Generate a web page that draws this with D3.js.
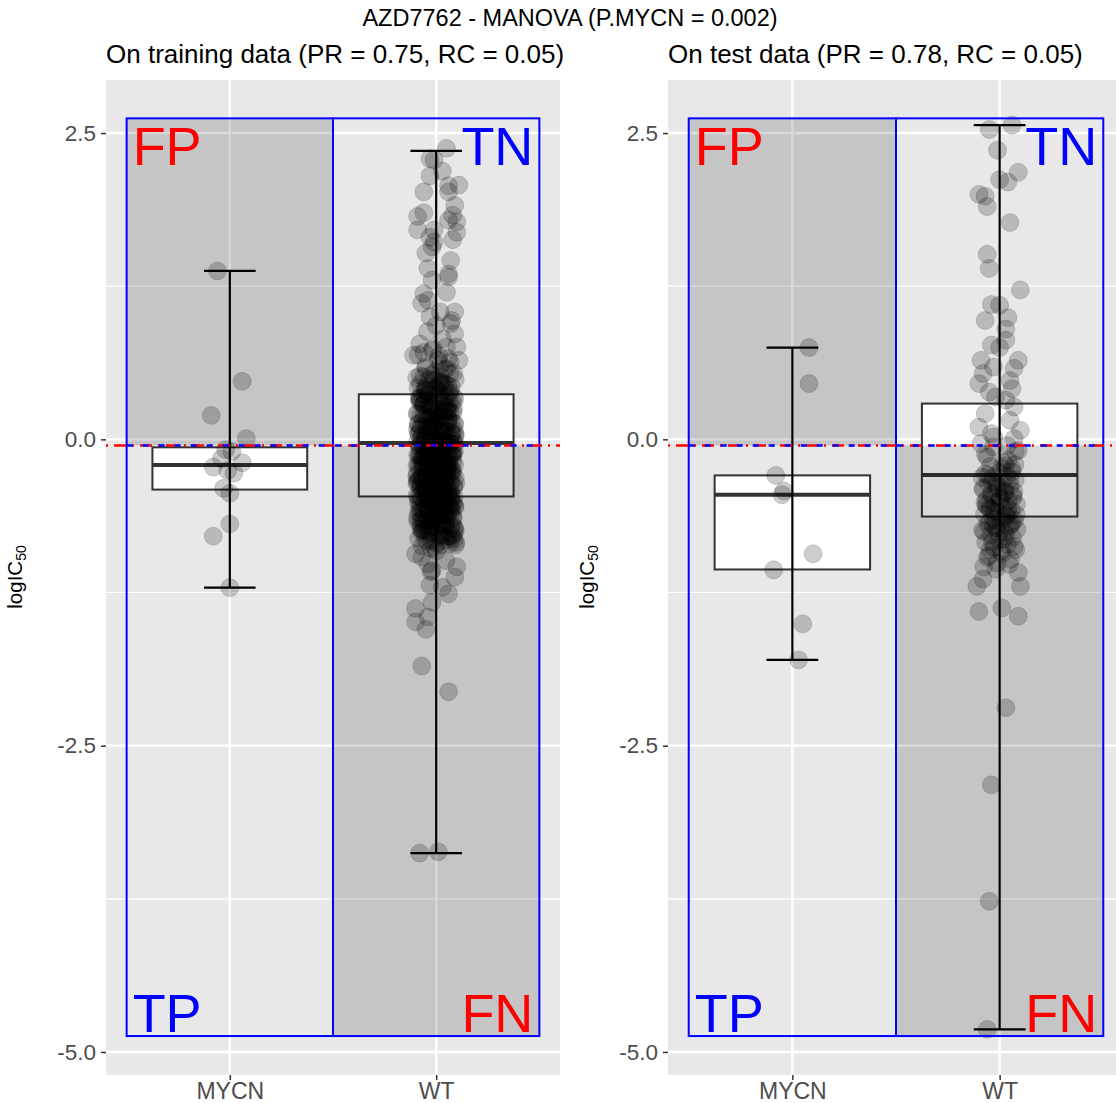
<!DOCTYPE html>
<html><head><meta charset="utf-8">
<script src="https://cdn.jsdelivr.net/npm/d3@7"></script>
<style>
body{margin:0;background:#fff}
svg{display:block;font-family:"Liberation Sans",Arial,Helvetica,sans-serif}
</style>
</head><body>
<svg id="chart" width="1116" height="1103"></svg>
<script>
// ---------------- data ----------------
const categories = ["MYCN", "WT"];
const yTickValues = [2.5, 0, -2.5, -5];
const yTickLabels = ["2.5", "0.0", "-2.5", "-5.0"];
const yMinorValues = [1.25, -1.25, -3.75];
const mainTitle = "AZD7762 - MANOVA (P.MYCN = 0.002)";
const panelTitles = ["On training data (PR = 0.75, RC = 0.05)", "On test data (PR = 0.78, RC = 0.05)"];
const threshold = -0.05;
const regionTop = 2.62;
const regionBottom = -4.87;
const regionLabels = ["FP", "TN", "TP", "FN"];

// box statistics: [min, q1, median, q3, max]
const trainMYCNStats = [-1.21, -0.41, -0.21, -0.065, 1.375];
const trainWTStats   = [-3.377, -0.466, -0.03, 0.368, 2.355];
const testMYCNStats  = [-1.80, -1.062, -0.452, -0.294, 0.749];
const testWTStats    = [-4.816, -0.63, -0.29, 0.292, 2.565];

// points: values and jitter (category units)
const trainMYCNValues = [1.375, 0.474, 0.196, 0.006, -0.084, -0.10, -0.158, -0.19, -0.226, -0.253, -0.275, -0.40, -0.44, -0.69, -0.79, -1.21];
const trainMYCNJitter = [-0.06, 0.06, -0.09, 0.08, -0.02, 0.01, -0.04, 0.06, -0.08, -0.01, 0.02, -0.03, 0.00, 0.00, -0.08, 0.00];

const testMYCNValues = [0.749, 0.455, -0.294, -0.422, -0.452, -0.934, -1.065, -1.506, -1.80];
const testMYCNJitter = [0.08, 0.08, -0.08, -0.04, -0.05, 0.10, -0.09, 0.05, 0.03];

// training WT: sparse points [value, jitter]
const trainWTOuter = [
  [2.375,0.05],[2.29,-0.03],[2.28,-0.01],[2.19,0.03],[2.15,-0.03],[2.075,0.11],[2.07,0.06],[2.02,-0.06],[2.02,0.06],
  [1.91,0.09],[1.83,0.08],[1.82,-0.09],[1.85,-0.06],[1.79,0.06],[1.775,0.10],[1.71,-0.09],[1.69,0.10],[1.71,-0.01],
  [1.65,-0.03],[1.63,0.08],[1.61,-0.01],[1.57,-0.02],[1.52,-0.05],[1.46,0.07],[1.395,-0.04],[1.35,0.06],[1.30,-0.02],
  [1.326,0.06],[1.20,0.05],[1.19,-0.06],[1.11,-0.07],[1.136,-0.04],[1.04,0.09],[1.00,-0.03],[1.04,0.02],[0.93,0.00],
  [0.945,0.07],[0.86,0.09],[0.78,-0.08],[0.727,-0.02],[0.754,0.05],[0.754,0.10],[0.686,-0.11],[0.645,0.11],[0.645,0.01],
  [-0.934,-0.10],[-1.016,-0.04],[-1.04,0.10],[-1.07,-0.02],[-1.125,0.09],[-1.19,-0.03],[-1.207,0.03],[-1.26,0.06],
  [-1.33,-0.02],[-1.38,-0.10],[-1.45,-0.04],[-1.49,-0.10],[-1.55,-0.05],[-1.85,-0.07],[-2.06,0.06],[-3.377,-0.08],[-3.366,0.01]
];
// training WT: dense core values
const trainWTCore = [
  0.61, 0.58, 0.63, 0.55, 0.52, 0.57, 0.49, 0.54, 0.47, 0.51, 0.44, 0.48, 0.42, 0.46, 0.39, 0.43, 0.41, 0.37, 0.35, 0.40,
  0.33, 0.38, 0.31, 0.36, 0.29, 0.34, 0.27, 0.32, 0.30, 0.25, 0.28, 0.23, 0.26, 0.21, 0.24, 0.19, 0.22, 0.17, 0.20, 0.15,
  0.18, 0.13, 0.16, 0.11, 0.14, 0.09, 0.12, 0.07, 0.10, 0.05, 0.08, 0.03, 0.06, 0.01, 0.04, -0.01, 0.02, -0.03, 0.00, -0.05,
  -0.02, -0.07, -0.04, -0.09, -0.06, -0.11, -0.08, -0.13, -0.10, -0.15, -0.12, -0.17, -0.14, -0.19, -0.16, -0.21, -0.18, -0.23, -0.20, -0.25,
  -0.22, -0.27, -0.24, -0.29, -0.26, -0.31, -0.28, -0.33, -0.30, -0.35, -0.32, -0.37, -0.34, -0.39, -0.36, -0.41, -0.38, -0.43, -0.40, -0.45,
  -0.42, -0.47, -0.44, -0.49, -0.46, -0.51, -0.48, -0.53, -0.50, -0.55, -0.52, -0.57, -0.54, -0.59, -0.56, -0.61, -0.58, -0.63, -0.60, -0.65,
  -0.62, -0.67, -0.64, -0.69, -0.66, -0.71, -0.68, -0.73, -0.70, -0.75, -0.72, -0.77, -0.74, -0.79, -0.76, -0.81, -0.78, -0.83, -0.80, -0.85,
  -0.87, -0.82, -0.89, -0.84, -0.86,
  0.593, 0.537, 0.486, 0.452, 0.418, 0.376, 0.344, 0.318, 0.283, 0.262, 0.235, 0.208, 0.187, 0.164, 0.142, 0.118, 0.097, 0.072, 0.054, 0.027,
  0.013, -0.008, -0.026, -0.044, -0.063, -0.081, -0.097, -0.116, -0.134, -0.152, -0.171, -0.193, -0.214, -0.236, -0.257, -0.276, -0.297, -0.318, -0.342, -0.366,
  -0.387, -0.414, -0.436, -0.463, -0.487, -0.512, -0.538, -0.566, -0.593, -0.624, -0.652, -0.683, -0.716, -0.748, -0.783, -0.817, -0.852, -0.878,
  0.326, 0.214, 0.105, -0.012, -0.088, -0.146, -0.223, -0.284, -0.351, -0.417, -0.476, -0.558, -0.633, -0.702,
  0.452, 0.271, 0.066, -0.037, -0.121, -0.205, -0.268, -0.329, -0.394, -0.452, -0.524, -0.611, -0.738,
  0.575, 0.528, 0.503, 0.467, 0.433, 0.398, 0.362, 0.337, 0.302, 0.276, 0.249, 0.226, 0.198, 0.172, 0.151, 0.127, 0.103, 0.084, 0.058, 0.036,
  0.018, -0.004, -0.019, -0.033, -0.052, -0.071, -0.093, -0.107, -0.126, -0.141, -0.163, -0.182, -0.198, -0.219, -0.241, -0.262, -0.283, -0.304,
  -0.326, -0.347, -0.372, -0.396, -0.421, -0.443, -0.468, -0.493, -0.517, -0.544, -0.572, -0.601, -0.628, -0.657, -0.691, -0.724, -0.759, -0.792,
  -0.828, -0.861,
  0.512, 0.404, 0.296, 0.188, 0.079, -0.015, -0.068, -0.113, -0.158, -0.201, -0.246, -0.291, -0.336, -0.381, -0.428, -0.472, -0.519, -0.567,
  -0.618, -0.672, -0.729, -0.794,
  0.357, 0.232, 0.137, 0.042, -0.029, -0.076, -0.138, -0.187, -0.231, -0.273, -0.312, -0.358, -0.403, -0.447, -0.496, -0.547, -0.596, -0.648,
  -0.712, -0.771,
  0.68, 0.71, 0.66, 0.74, 0.69, 0.82, 0.88, 0.97, -0.91, -0.96, -0.99, -1.08,
  0.49, 0.45, 0.41, 0.38, 0.34, 0.31, 0.29, 0.26, 0.22, 0.19, 0.16, 0.13, 0.11, 0.08, 0.05, 0.03, 0.01, -0.02, -0.04, -0.06,
  -0.08, -0.10, -0.12, -0.14, -0.16, -0.18, -0.20, -0.22, -0.24, -0.26, -0.28, -0.30, -0.32, -0.34, -0.36, -0.38, -0.40, -0.42,
  -0.44, -0.46, -0.48, -0.50, -0.52, -0.55, -0.58, -0.61, -0.64, -0.67, -0.70, -0.74, -0.78,
  0.415, 0.305, 0.245, 0.175, 0.125, 0.065, 0.015, -0.035, -0.085, -0.135, -0.175, -0.215, -0.255, -0.295, -0.335, -0.375,
  -0.415, -0.455, -0.495, -0.535, -0.575, -0.615, -0.665, -0.715, -0.765, -0.815,
  0.355, 0.285, 0.155, 0.095, 0.045, -0.005, -0.055, -0.105, -0.155, -0.195, -0.235, -0.275, -0.315, -0.355, -0.395, -0.435,
  -0.475, -0.515, -0.555, -0.595, -0.645, -0.695, -0.745,
  0.235, 0.115, -0.025, -0.095, -0.165, -0.245, -0.305, -0.365, -0.425, -0.485, -0.545, -0.605, -0.685
];

// test WT: sparse points [value, jitter]
const testWTOuter = [
  [2.53,-0.05],[2.565,0.06],[2.36,-0.01],[2.18,0.09],[2.12,0.00],[2.10,0.04],[2.00,-0.10],[1.985,-0.07],[1.90,-0.06],
  [1.77,0.05],[1.51,-0.06],[1.395,-0.05],[1.22,0.10],[1.10,-0.04],[1.095,0.00],[0.994,0.04],[0.97,-0.07],[0.90,0.03],
  [0.77,-0.04],[0.75,0.00],[0.81,0.03],[0.645,-0.09],[0.645,0.09],[0.59,-0.03],[0.58,0.07],[0.537,-0.08],[0.48,0.05],
  [0.455,-0.10],[0.386,-0.05],[0.414,0.06],[0.346,-0.02],[0.32,0.03],[0.264,0.07],[0.21,-0.07],[0.155,0.05],[0.10,-0.10],
  [0.074,0.10],[0.047,-0.04],[0.006,0.07],[-0.035,-0.09],[-0.063,-0.03],[-0.09,0.09],[-0.145,-0.06],[-0.17,0.04],
  [-1.086,0.09],[-1.14,-0.08],[-1.20,-0.11],[-1.20,0.10],[-1.405,-0.10],[-1.376,0.01],[-1.443,0.09],
  [-2.19,0.03],[-2.82,-0.04],[-3.77,-0.05],[-4.816,-0.06]
];
// test WT: dense core values
const testWTCore = [
  -0.19, -0.22, -0.24, -0.27, -0.28, -0.30, -0.31, -0.33, -0.35, -0.36, -0.38, -0.40, -0.41, -0.43, -0.44, -0.46,
  -0.47, -0.49, -0.50, -0.52, -0.53, -0.55, -0.56, -0.58, -0.59, -0.61, -0.62, -0.64, -0.66, -0.67, -0.69, -0.71,
  -0.72, -0.74, -0.76, -0.78, -0.80, -0.82, -0.84, -0.86, -0.88, -0.90, -0.93, -0.95, -0.98, -1.01, -1.04,
  -0.215, -0.345, -0.425, -0.485, -0.545, -0.605, -0.655, -0.735, -0.815, -0.905, -0.265, -0.385, -0.515, -0.625, -0.705,
  -0.205, -0.235, -0.29, -0.325, -0.37, -0.395, -0.42, -0.455, -0.475, -0.505, -0.535, -0.565, -0.585, -0.615, -0.645,
  -0.675, -0.695, -0.725, -0.755, -0.785, -0.835, -0.875, -0.915, -0.965, -1.02, -1.06, -0.31, -0.44, -0.57, -0.68,
  -0.77, -0.12, -0.05, 0.02, -0.10
];

// ---------------- drawing ----------------
const svg = d3.select("#chart");
const panelTop = 80, panelBottom = 1075;
const y = d3.scaleLinear().domain([-5.188, 2.933]).range([panelBottom, panelTop]);

const panels = [
  {x0: 106, x1: 560, title: panelTitles[0], stats: [trainMYCNStats, trainWTStats],
   mycnV: trainMYCNValues, mycnJ: trainMYCNJitter, wtOuter: trainWTOuter, wtCore: trainWTCore, spread: 0.095, ylabX: 22},
  {x0: 668, x1: 1124, title: panelTitles[1], stats: [testMYCNStats, testWTStats],
   mycnV: testMYCNValues, mycnJ: testMYCNJitter, wtOuter: testWTOuter, wtCore: testWTCore, spread: 0.085, ylabX: 594}
];

svg.append("text").attr("x", 570).attr("y", 26).attr("text-anchor", "middle")
  .attr("font-size", 23.5).attr("fill", "#000").text(mainTitle);

panels.forEach((p, pi) => {
  const x = d3.scaleLinear().domain([0.4, 2.6]).range([p.x0, p.x1]);
  const clipId = "clip" + pi;
  svg.append("clipPath").attr("id", clipId).append("rect")
    .attr("x", p.x0).attr("y", panelTop).attr("width", p.x1 - p.x0).attr("height", panelBottom - panelTop);
  const g = svg.append("g").attr("clip-path", `url(#${clipId})`);

  g.append("rect").attr("x", p.x0).attr("y", panelTop).attr("width", p.x1 - p.x0)
    .attr("height", panelBottom - panelTop).attr("fill", "#E8E8E8");

  // grid
  g.selectAll(".gmin").data(yMinorValues).join("line")
    .attr("x1", p.x0).attr("x2", p.x1).attr("y1", d => y(d)).attr("y2", d => y(d))
    .attr("stroke", "#fff").attr("stroke-width", 1.2);
  g.selectAll(".gmaj").data(yTickValues).join("line")
    .attr("x1", p.x0).attr("x2", p.x1).attr("y1", d => y(d)).attr("y2", d => y(d))
    .attr("stroke", "#fff").attr("stroke-width", 2.4);
  g.selectAll(".gx").data([1, 2]).join("line")
    .attr("x1", d => x(d)).attr("x2", d => x(d)).attr("y1", panelTop).attr("y2", panelBottom)
    .attr("stroke", "#fff").attr("stroke-width", 2.4);

  // boxes
  p.stats.forEach((s, k) => {
    const c = k + 1;
    g.append("rect").attr("x", x(c - 0.375)).attr("width", x(c + 0.375) - x(c - 0.375))
      .attr("y", y(s[3])).attr("height", y(s[1]) - y(s[3]))
      .attr("fill", "#fff").attr("stroke", "#333").attr("stroke-width", 2);
    g.append("line").attr("x1", x(c - 0.375)).attr("x2", x(c + 0.375))
      .attr("y1", y(s[2])).attr("y2", y(s[2])).attr("stroke", "#333").attr("stroke-width", 4);
  });
  // error bars
  p.stats.forEach((s, k) => {
    const c = k + 1;
    g.append("line").attr("x1", x(c)).attr("x2", x(c)).attr("y1", y(s[0])).attr("y2", y(s[4]))
      .attr("stroke", "#000").attr("stroke-width", 2.2);
    [s[0], s[4]].forEach(v => {
      g.append("line").attr("x1", x(c - 0.125)).attr("x2", x(c + 0.125)).attr("y1", y(v)).attr("y2", y(v))
        .attr("stroke", "#000").attr("stroke-width", 2.2);
    });
  });

  // points
  const pts = [];
  p.mycnV.forEach((v, i) => pts.push([1 + p.mycnJ[i], v]));
  p.wtOuter.forEach(d => pts.push([2 + d[1], d[0]]));
  p.wtCore.forEach((v, i) => {
    const j = (((i + 1) * 0.6180339887) % 1 - 0.5) * 2 * p.spread;
    pts.push([2 + j, v]);
  });
  g.selectAll(".pt").data(pts).join("circle")
    .attr("cx", d => x(d[0])).attr("cy", d => y(d[1])).attr("r", 9)
    .attr("fill", "rgba(0,0,0,0.2)").attr("stroke", "rgba(0,0,0,0.14)").attr("stroke-width", 1);

  // shaded regions
  g.append("rect").attr("x", x(0.5)).attr("width", x(1.5) - x(0.5))
    .attr("y", y(regionTop)).attr("height", y(threshold) - y(regionTop))
    .attr("fill", "#000").attr("fill-opacity", 0.15);
  g.append("rect").attr("x", x(1.5)).attr("width", x(2.5) - x(1.5))
    .attr("y", y(threshold)).attr("height", y(regionBottom) - y(threshold))
    .attr("fill", "#000").attr("fill-opacity", 0.15);
  // outlines
  [[0.5, 1.5], [1.5, 2.5]].forEach(r => {
    g.append("rect").attr("x", x(r[0])).attr("width", x(r[1]) - x(r[0]))
      .attr("y", y(regionTop)).attr("height", y(regionBottom) - y(regionTop))
      .attr("fill", "none").attr("stroke", "#0000FF").attr("stroke-width", 2);
  });
  // threshold lines
  g.append("line").attr("x1", p.x0).attr("x2", p.x1).attr("y1", y(threshold)).attr("y2", y(threshold))
    .attr("stroke", "#FF0000").attr("stroke-width", 2.5).attr("stroke-dasharray", "2,6,12,6");
  g.append("line").attr("x1", x(0.5)).attr("x2", x(2.5)).attr("y1", y(threshold)).attr("y2", y(threshold))
    .attr("stroke", "#0000FF").attr("stroke-width", 2.5).attr("stroke-dasharray", "6,10");

  // region labels
  const fs = 54;
  g.append("text").attr("x", x(0.5) + 6).attr("y", y(regionTop) + 47).attr("font-size", fs)
    .attr("fill", "#FF0000").text(regionLabels[0]);
  g.append("text").attr("x", x(2.5) - 6).attr("y", y(regionTop) + 47).attr("font-size", fs)
    .attr("text-anchor", "end").attr("fill", "#0000FF").text(regionLabels[1]);
  g.append("text").attr("x", x(0.5) + 6).attr("y", y(regionBottom) - 4).attr("font-size", fs)
    .attr("fill", "#0000FF").text(regionLabels[2]);
  g.append("text").attr("x", x(2.5) - 6).attr("y", y(regionBottom) - 4).attr("font-size", fs)
    .attr("text-anchor", "end").attr("fill", "#FF0000").text(regionLabels[3]);

  // axes
  const ya = svg.append("g").attr("transform", `translate(${p.x0},0)`)
    .call(d3.axisLeft(y).tickValues(yTickValues).tickFormat((d, i) => yTickLabels[i]).tickSize(5).tickPadding(5));
  ya.select(".domain").remove();
  ya.selectAll("line").attr("stroke", "#333").attr("stroke-width", 1.5);
  ya.selectAll("text").attr("fill", "#4D4D4D").attr("font-size", 22.5).attr("font-family", "Liberation Sans, Arial, sans-serif");

  const xa = svg.append("g").attr("transform", `translate(0,${panelBottom})`)
    .call(d3.axisBottom(x).tickValues([1, 2]).tickFormat(d => categories[d - 1]).tickSize(5).tickPadding(3));
  xa.select(".domain").remove();
  xa.selectAll("line").attr("stroke", "#333").attr("stroke-width", 1.5);
  xa.selectAll("text").attr("fill", "#4D4D4D").attr("font-size", 23).attr("font-family", "Liberation Sans, Arial, sans-serif");

  // panel title
  svg.append("text").attr("x", p.x0).attr("y", 63).attr("font-size", 26).attr("fill", "#000").text(p.title);

  // y label
  const yl = svg.append("text").attr("transform", `translate(${p.ylabX},577) rotate(-90)`)
    .attr("text-anchor", "middle").attr("font-size", 20.5).attr("fill", "#000");
  yl.append("tspan").text("logIC");
  yl.append("tspan").attr("font-size", 14).attr("dy", 4).text("50");
});
</script>
</body></html>
